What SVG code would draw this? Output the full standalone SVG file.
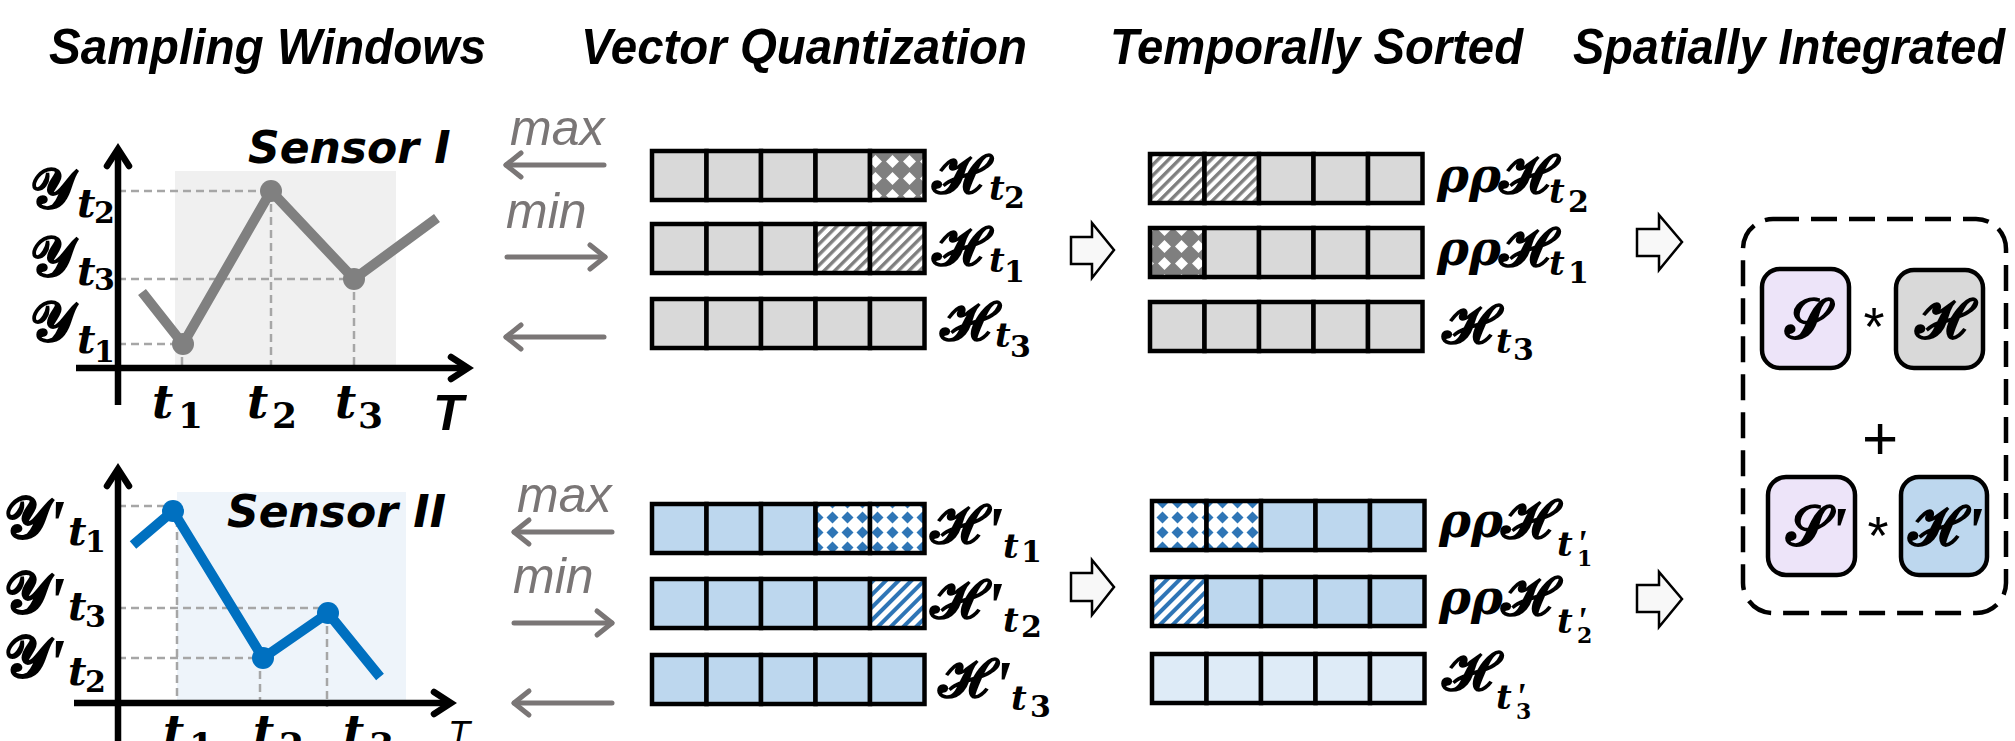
<svg xmlns="http://www.w3.org/2000/svg" width="2015" height="741" viewBox="0 0 2015 741">
  <style>
    .title { font-family: "Liberation Sans", Arial, sans-serif; font-weight: bold; font-style: italic; font-size: 50px; fill: #000; }
    .sensor { font-family: "DejaVu Sans", sans-serif; font-weight: bold; font-style: oblique; font-size: 44px; fill: #000; }
    .scr { font-family: "DejaVu Serif", "DejaVu Sans", "Noto Sans", serif; font-weight: bold; font-style: normal; fill: #000; }
    .pr { font-family: "Liberation Serif", "Times New Roman", serif; font-weight: bold; font-style: italic; fill: #000; }
    .ti { font-family: "DejaVu Serif", serif; font-weight: bold; font-style: italic; fill: #000; }
    .dg { font-family: "DejaVu Serif", serif; font-weight: bold; font-style: normal; fill: #000; }
    .op { font-family: "Liberation Sans", Arial, sans-serif; fill: #000; }
    .mm { font-family: "Liberation Sans", Arial, sans-serif; font-style: italic; font-size: 50px; fill: #7a7676; }
    .axis { stroke: #000; stroke-width: 6.5; fill: none; }
    .guide { stroke: #a6a6a6; stroke-width: 2.5; stroke-dasharray: 8 5; fill: none; }
    .cell { stroke: #000; stroke-width: 4.5; }
    .g { fill: #d9d9d9; }
    .b { fill: #bdd7ee; }
    .lb { fill: #deebf7; }
    .flow { stroke: #7a7676; stroke-width: 5; fill: none; stroke-linecap: round; }
    .fat { fill: #f8f8f8; stroke: #000; stroke-width: 2.5; stroke-linejoin: miter; }
    .mbox { stroke: #000; stroke-width: 4.5; }
  </style>
  <defs>
    <marker id="headGray" markerUnits="userSpaceOnUse" orient="auto" overflow="visible" refX="0" refY="0" markerWidth="1" markerHeight="1">
      <path d="M-15,-12 L0,0 L-15,12" fill="none" stroke="#7a7676" stroke-width="5" stroke-linecap="round" stroke-linejoin="round"/>
    </marker>
    <marker id="headBlack" markerUnits="userSpaceOnUse" orient="auto" overflow="visible" refX="0" refY="0" markerWidth="1" markerHeight="1">
      <path d="M-17,-11 L0,0 L-17,11" fill="none" stroke="#000" stroke-width="6.5" stroke-linecap="round" stroke-linejoin="miter"/>
    </marker>
    <pattern id="diaGray" width="17" height="17" patternUnits="userSpaceOnUse">
      <rect width="17" height="17" fill="#7f7f7f"/>
      <path d="M8.5,2 L15,8.5 L8.5,15 L2,8.5Z" fill="#fff"/>
    </pattern>
    <pattern id="diaBlue" width="15" height="15" patternUnits="userSpaceOnUse">
      <rect width="15" height="15" fill="#fff"/>
      <path d="M7.5,1.5 L13.5,7.5 L7.5,13.5 L1.5,7.5Z" fill="#2e75b6"/>
    </pattern>
    <pattern id="strGray" width="7.5" height="7.5" patternUnits="userSpaceOnUse" patternTransform="rotate(45)">
      <rect width="7.5" height="7.5" fill="#fff"/>
      <rect width="3.4" height="7.5" fill="#7f7f7f"/>
    </pattern>
    <pattern id="strBlue" width="9" height="9" patternUnits="userSpaceOnUse" patternTransform="rotate(45)">
      <rect width="9" height="9" fill="#fff"/>
      <rect width="4" height="9" fill="#2e75b6"/>
    </pattern>
  </defs>

  <rect width="2015" height="741" fill="#fff"/>

  <!-- column headings -->
  <g id="headings">
    <text class="title" x="49" y="64" textLength="437" lengthAdjust="spacingAndGlyphs">Sampling Windows</text>
    <text class="title" x="581" y="64" textLength="446" lengthAdjust="spacingAndGlyphs">Vector Quantization</text>
    <text class="title" x="1110" y="64" textLength="413" lengthAdjust="spacingAndGlyphs">Temporally Sorted</text>
    <text class="title" x="1573" y="64" textLength="432" lengthAdjust="spacingAndGlyphs">Spatially Integrated</text>
  </g>

  <!-- sensor I sampling window -->
  <g id="sensor1-chart">
    <rect x="175" y="171" width="221" height="197" fill="#f0f0f0"/>
    <path class="guide" d="M118,191 H271 M118,279 H354 M118,344 H183 M182,344 V368 M271,191 V368 M354,279 V368"/>
    <polyline points="142,292 183,344 271,191 354,279 437,218" fill="none" stroke="#808080" stroke-width="10" stroke-linejoin="round"/>
    <circle cx="183" cy="344" r="11" fill="#808080"/>
    <circle cx="271" cy="191" r="11" fill="#808080"/>
    <circle cx="354" cy="279" r="11" fill="#808080"/>
    <line class="axis" x1="118" y1="405" x2="118" y2="149" marker-end="url(#headBlack)"/>
    <line class="axis" x1="76" y1="368" x2="468" y2="368" marker-end="url(#headBlack)"/>
    <text class="sensor" x="248" y="163">Sensor I</text>
    <text><tspan class="scr" x="30" y="208" font-size="56">𝓨</tspan><tspan class="ti" x="77" y="217" font-size="40">t</tspan><tspan class="dg" x="94" y="223" font-size="30">2</tspan></text>
    <text><tspan class="scr" x="30" y="276" font-size="56">𝓨</tspan><tspan class="ti" x="77" y="285" font-size="40">t</tspan><tspan class="dg" x="94" y="290" font-size="30">3</tspan></text>
    <text><tspan class="scr" x="30" y="341" font-size="56">𝓨</tspan><tspan class="ti" x="77" y="353" font-size="40">t</tspan><tspan class="dg" x="94" y="362" font-size="30">1</tspan></text>
    <text><tspan class="ti" x="152" y="418" font-size="46">t</tspan><tspan class="dg" x="178" y="428" font-size="36">1</tspan></text>
    <text><tspan class="ti" x="247" y="418" font-size="46">t</tspan><tspan class="dg" x="272" y="428" font-size="36">2</tspan></text>
    <text><tspan class="ti" x="335" y="418" font-size="46">t</tspan><tspan class="dg" x="358" y="428" font-size="36">3</tspan></text>
    <text class="title" x="433" y="430" font-size="52">T</text>
  </g>

  <!-- sensor II sampling window -->
  <g id="sensor2-chart">
    <rect x="177" y="492" width="229" height="211" fill="#eef4fa"/>
    <path class="guide" d="M118,506 H173 M177,506 V703 M118,608 H328 M118,658 H263 M260,658 V703 M327,613 V707"/>
    <polyline points="133,545 173,511 263,658 328,613 380,677" fill="none" stroke="#0070c0" stroke-width="10" stroke-linejoin="round"/>
    <circle cx="173" cy="511" r="11" fill="#0070c0"/>
    <circle cx="263" cy="658" r="11" fill="#0070c0"/>
    <circle cx="328" cy="613" r="11" fill="#0070c0"/>
    <line class="axis" x1="118" y1="745" x2="118" y2="469" marker-end="url(#headBlack)"/>
    <line class="axis" x1="74" y1="703" x2="451" y2="703" marker-end="url(#headBlack)"/>
    <text class="sensor" x="227" y="527" font-size="45">Sensor II</text>
    <text><tspan class="scr" x="4" y="538" font-size="58">𝓨</tspan><tspan class="pr" x="46" y="548" font-size="70">'</tspan><tspan class="ti" x="68" y="545" font-size="40">t</tspan><tspan class="dg" x="85" y="552" font-size="30">1</tspan></text>
    <text><tspan class="scr" x="4" y="613" font-size="58">𝓨</tspan><tspan class="pr" x="46" y="625" font-size="70">'</tspan><tspan class="ti" x="68" y="620" font-size="40">t</tspan><tspan class="dg" x="85" y="627" font-size="30">3</tspan></text>
    <text><tspan class="scr" x="4" y="677" font-size="58">𝓨</tspan><tspan class="pr" x="46" y="687" font-size="70">'</tspan><tspan class="ti" x="68" y="685" font-size="40">t</tspan><tspan class="dg" x="85" y="692" font-size="30">2</tspan></text>
    <text><tspan class="ti" x="163" y="748" font-size="46">t</tspan><tspan class="dg" x="189" y="758" font-size="36">1</tspan></text>
    <text><tspan class="ti" x="253" y="748" font-size="46">t</tspan><tspan class="dg" x="279" y="758" font-size="36">2</tspan></text>
    <text><tspan class="ti" x="343" y="748" font-size="46">t</tspan><tspan class="dg" x="369" y="758" font-size="36">3</tspan></text>
    <text class="op" x="448" y="747" font-size="36" font-style="italic">T</text>
  </g>

  <!-- vector quantization, sensor I -->
  <g id="vq1-row-t2">
    <rect class="cell g" x="652" y="151" width="54.5" height="49"/>
    <rect class="cell g" x="706.5" y="151" width="54.5" height="49"/>
    <rect class="cell g" x="761" y="151" width="54.5" height="49"/>
    <rect class="cell g" x="815.5" y="151" width="54.5" height="49"/>
    <rect class="cell" fill="url(#diaGray)" x="870" y="151" width="54.5" height="49"/>
    <text><tspan class="scr" x="932" y="193" font-size="55">𝓗</tspan><tspan class="ti" x="989" y="200" font-size="34">t</tspan><tspan class="dg" x="1004" y="208" font-size="30">2</tspan></text>
  </g>
  <g id="vq1-row-t1">
    <rect class="cell g" x="652" y="224" width="54.5" height="49"/>
    <rect class="cell g" x="706.5" y="224" width="54.5" height="49"/>
    <rect class="cell g" x="761" y="224" width="54.5" height="49"/>
    <rect class="cell" fill="url(#strGray)" x="815.5" y="224" width="54.5" height="49"/>
    <rect class="cell" fill="url(#strGray)" x="870" y="224" width="54.5" height="49"/>
    <text><tspan class="scr" x="932" y="265" font-size="55">𝓗</tspan><tspan class="ti" x="989" y="272" font-size="34">t</tspan><tspan class="dg" x="1004" y="282" font-size="30">1</tspan></text>
  </g>
  <g id="vq1-row-t3">
    <rect class="cell g" x="652" y="299" width="54.5" height="49"/>
    <rect class="cell g" x="706.5" y="299" width="54.5" height="49"/>
    <rect class="cell g" x="761" y="299" width="54.5" height="49"/>
    <rect class="cell g" x="815.5" y="299" width="54.5" height="49"/>
    <rect class="cell g" x="870" y="299" width="54.5" height="49"/>
    <text><tspan class="scr" x="940" y="340" font-size="55">𝓗</tspan><tspan class="ti" x="995" y="347" font-size="34">t</tspan><tspan class="dg" x="1010" y="357" font-size="30">3</tspan></text>
  </g>

  <!-- vector quantization, sensor II -->
  <g id="vq2-row-t1">
    <rect class="cell b" x="652" y="504" width="54.5" height="49"/>
    <rect class="cell b" x="706.5" y="504" width="54.5" height="49"/>
    <rect class="cell b" x="761" y="504" width="54.5" height="49"/>
    <rect class="cell" fill="url(#diaBlue)" x="815.5" y="504" width="54.5" height="49"/>
    <rect class="cell" fill="url(#diaBlue)" x="870" y="504" width="54.5" height="49"/>
    <text><tspan class="scr" x="930" y="543" font-size="55">𝓗</tspan><tspan class="pr" x="984" y="555" font-size="70">'</tspan><tspan class="ti" x="1003" y="558" font-size="34">t</tspan><tspan class="dg" x="1021" y="562" font-size="30">1</tspan></text>
  </g>
  <g id="vq2-row-t2">
    <rect class="cell b" x="652" y="579" width="54.5" height="49"/>
    <rect class="cell b" x="706.5" y="579" width="54.5" height="49"/>
    <rect class="cell b" x="761" y="579" width="54.5" height="49"/>
    <rect class="cell b" x="815.5" y="579" width="54.5" height="49"/>
    <rect class="cell" fill="url(#strBlue)" x="870" y="579" width="54.5" height="49"/>
    <text><tspan class="scr" x="930" y="618" font-size="55">𝓗</tspan><tspan class="pr" x="984" y="630" font-size="70">'</tspan><tspan class="ti" x="1003" y="632" font-size="34">t</tspan><tspan class="dg" x="1021" y="637" font-size="30">2</tspan></text>
  </g>
  <g id="vq2-row-t3">
    <rect class="cell b" x="652" y="655" width="54.5" height="49"/>
    <rect class="cell b" x="706.5" y="655" width="54.5" height="49"/>
    <rect class="cell b" x="761" y="655" width="54.5" height="49"/>
    <rect class="cell b" x="815.5" y="655" width="54.5" height="49"/>
    <rect class="cell b" x="870" y="655" width="54.5" height="49"/>
    <text><tspan class="scr" x="938" y="697" font-size="55">𝓗</tspan><tspan class="pr" x="992" y="709" font-size="70">'</tspan><tspan class="ti" x="1011" y="710" font-size="34">t</tspan><tspan class="dg" x="1030" y="717" font-size="30">3</tspan></text>
  </g>

  <!-- temporally sorted, sensor I -->
  <g id="ts1-row-t2">
    <rect class="cell" fill="url(#strGray)" x="1150" y="154" width="54.5" height="49"/>
    <rect class="cell" fill="url(#strGray)" x="1204.5" y="154" width="54.5" height="49"/>
    <rect class="cell g" x="1259" y="154" width="54.5" height="49"/>
    <rect class="cell g" x="1313.5" y="154" width="54.5" height="49"/>
    <rect class="cell g" x="1368" y="154" width="54.5" height="49"/>
    <text><tspan class="ti" x="1437" y="192" font-size="48">ρ</tspan><tspan class="ti" x="1469" y="192" font-size="48">ρ</tspan><tspan class="scr" x="1499" y="193" font-size="55">𝓗</tspan><tspan class="ti" x="1549" y="203" font-size="34">t</tspan><tspan class="dg" x="1568" y="212" font-size="30">2</tspan></text>
  </g>
  <g id="ts1-row-t1">
    <rect class="cell" fill="url(#diaGray)" x="1150" y="228" width="54.5" height="49"/>
    <rect class="cell g" x="1204.5" y="228" width="54.5" height="49"/>
    <rect class="cell g" x="1259" y="228" width="54.5" height="49"/>
    <rect class="cell g" x="1313.5" y="228" width="54.5" height="49"/>
    <rect class="cell g" x="1368" y="228" width="54.5" height="49"/>
    <text><tspan class="ti" x="1437" y="265" font-size="48">ρ</tspan><tspan class="ti" x="1469" y="265" font-size="48">ρ</tspan><tspan class="scr" x="1499" y="266" font-size="55">𝓗</tspan><tspan class="ti" x="1549" y="275" font-size="34">t</tspan><tspan class="dg" x="1568" y="283" font-size="30">1</tspan></text>
  </g>
  <g id="ts1-row-t3">
    <rect class="cell g" x="1150" y="302" width="54.5" height="49"/>
    <rect class="cell g" x="1204.5" y="302" width="54.5" height="49"/>
    <rect class="cell g" x="1259" y="302" width="54.5" height="49"/>
    <rect class="cell g" x="1313.5" y="302" width="54.5" height="49"/>
    <rect class="cell g" x="1368" y="302" width="54.5" height="49"/>
    <text><tspan class="scr" x="1442" y="343" font-size="55">𝓗</tspan><tspan class="ti" x="1496" y="353" font-size="34">t</tspan><tspan class="dg" x="1513" y="360" font-size="30">3</tspan></text>
  </g>

  <!-- temporally sorted, sensor II -->
  <g id="ts2-row-t1">
    <rect class="cell" fill="url(#diaBlue)" x="1152" y="501" width="54.5" height="49"/>
    <rect class="cell" fill="url(#diaBlue)" x="1206.5" y="501" width="54.5" height="49"/>
    <rect class="cell b" x="1261" y="501" width="54.5" height="49"/>
    <rect class="cell b" x="1315.5" y="501" width="54.5" height="49"/>
    <rect class="cell b" x="1370" y="501" width="54.5" height="49"/>
    <text><tspan class="ti" x="1439" y="537" font-size="48">ρ</tspan><tspan class="ti" x="1471" y="537" font-size="48">ρ</tspan><tspan class="scr" x="1501" y="538" font-size="55">𝓗</tspan><tspan class="ti" x="1557" y="556" font-size="34">t</tspan><tspan class="pr" x="1576" y="556" font-size="38">'</tspan><tspan class="dg" x="1577" y="566" font-size="22">1</tspan></text>
  </g>
  <g id="ts2-row-t2">
    <rect class="cell" fill="url(#strBlue)" x="1152" y="577" width="54.5" height="49"/>
    <rect class="cell b" x="1206.5" y="577" width="54.5" height="49"/>
    <rect class="cell b" x="1261" y="577" width="54.5" height="49"/>
    <rect class="cell b" x="1315.5" y="577" width="54.5" height="49"/>
    <rect class="cell b" x="1370" y="577" width="54.5" height="49"/>
    <text><tspan class="ti" x="1439" y="614" font-size="48">ρ</tspan><tspan class="ti" x="1471" y="614" font-size="48">ρ</tspan><tspan class="scr" x="1501" y="615" font-size="55">𝓗</tspan><tspan class="ti" x="1557" y="633" font-size="34">t</tspan><tspan class="pr" x="1576" y="633" font-size="38">'</tspan><tspan class="dg" x="1577" y="643" font-size="22">2</tspan></text>
  </g>
  <g id="ts2-row-t3">
    <rect class="cell lb" x="1152" y="654" width="54.5" height="49"/>
    <rect class="cell lb" x="1206.5" y="654" width="54.5" height="49"/>
    <rect class="cell lb" x="1261" y="654" width="54.5" height="49"/>
    <rect class="cell lb" x="1315.5" y="654" width="54.5" height="49"/>
    <rect class="cell lb" x="1370" y="654" width="54.5" height="49"/>
    <text><tspan class="scr" x="1442" y="690" font-size="55">𝓗</tspan><tspan class="ti" x="1496" y="709" font-size="34">t</tspan><tspan class="pr" x="1515" y="709" font-size="38">'</tspan><tspan class="dg" x="1516" y="719" font-size="22">3</tspan></text>
  </g>

  <!-- spatial integration -->
  <g id="integration">
    <rect x="1743" y="219" width="263" height="394" rx="30" fill="none" stroke="#000" stroke-width="4.5" stroke-dasharray="26 12"/>
    <rect class="mbox" x="1762" y="269" width="87" height="99" rx="18" fill="#ede4f9"/>
    <rect class="mbox" x="1896" y="270" width="87" height="98" rx="18" fill="#d9d9d9"/>
    <rect class="mbox" x="1768" y="477" width="87" height="98" rx="18" fill="#ede4f9"/>
    <rect class="mbox" x="1901" y="477" width="86" height="98" rx="18" fill="#bdd7ee"/>
    <text class="scr" x="1806" y="338" font-size="56" text-anchor="middle">𝓢</text>
    <text class="scr" x="1940" y="338" font-size="56" text-anchor="middle">𝓗</text>
    <text><tspan class="scr" x="1786" y="545" font-size="56">𝓢</tspan><tspan class="pr" x="1828" y="555" font-size="70">'</tspan></text>
    <text><tspan class="scr" x="1908" y="545" font-size="56">𝓗</tspan><tspan class="pr" x="1964" y="555" font-size="70">'</tspan></text>
    <text class="op" x="1874" y="345" font-size="54" text-anchor="middle">*</text>
    <text class="op" x="1878" y="554" font-size="54" text-anchor="middle">*</text>
    <text class="op" x="1880" y="459" font-size="62" text-anchor="middle">+</text>
  </g>

  <!-- connectors -->
  <g id="connectors">
    <text class="mm" x="510" y="145">max</text>
    <text class="mm" x="506" y="228">min</text>
    <text class="mm" x="517" y="512">max</text>
    <text class="mm" x="513" y="593">min</text>
    <line class="flow" x1="604" y1="165" x2="506" y2="165" marker-end="url(#headGray)"/>
    <line class="flow" x1="507" y1="257" x2="605" y2="257" marker-end="url(#headGray)"/>
    <line class="flow" x1="604" y1="337" x2="506" y2="337" marker-end="url(#headGray)"/>
    <line class="flow" x1="612" y1="532" x2="514" y2="532" marker-end="url(#headGray)"/>
    <line class="flow" x1="514" y1="623" x2="612" y2="623" marker-end="url(#headGray)"/>
    <line class="flow" x1="612" y1="703" x2="514" y2="703" marker-end="url(#headGray)"/>
    <path class="fat" d="M1071,237 H1092 V223 L1114,250 L1092,278 V264 H1071Z"/>
    <path class="fat" d="M1071,573 H1092 V560 L1114,587 L1092,615 V601 H1071Z"/>
    <path class="fat" d="M1637,229 H1659 V215 L1682,242 L1659,270 V256 H1637Z"/>
    <path class="fat" d="M1637,585 H1659 V572 L1682,599 L1659,627 V612 H1637Z"/>
  </g>
</svg>
